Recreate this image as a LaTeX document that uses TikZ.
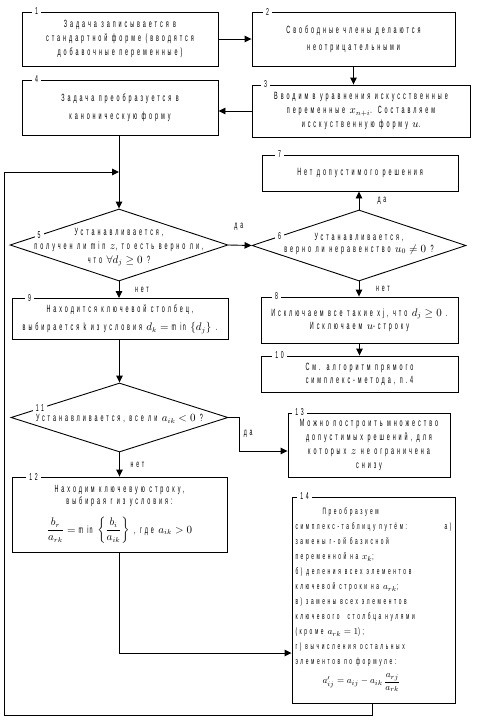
\documentclass[tikz,border=0pt]{standalone}
\usepackage{fontspec}
\usepackage{amsmath}
\setmainfont{Liberation Sans}[FakeStretch=0.52,LetterSpace=28]
\usetikzlibrary{shapes.geometric,arrows.meta,calc}
\newcommand{\myfs}[1]{\fontsize{10.5pt}{#1pt}\selectfont}
\newcommand{\smfs}[1]{\fontsize{9.3pt}{#1pt}\selectfont}
\begin{document}
\begin{tikzpicture}[x=1pt,y=-1pt,
  box/.style={draw,line width=0.9pt,inner sep=0pt,align=center},
  dia/.style={draw,diamond,line width=0.9pt,inner sep=0pt},
  num/.style={fill=white,inner xsep=3pt,inner ysep=0.5pt,font=\fontsize{10}{10}\selectfont},
  lbl/.style={inner sep=1pt,font=\fontsize{10}{10}\selectfont},
  arr/.style={line width=0.9pt,-{Triangle[length=7pt,width=6.5pt]}},
  txt/.style={align=center}]
\useasboundingbox (0,0) rectangle (479,728);

\node[box,minimum width=196,minimum height=54,font=\myfs{14}] (b1) at (120,39) {Задача записывается в\\стандартной форме (вводятся\\добавочные переменные)};
\node[box,minimum width=203,minimum height=54,font=\myfs{17}] (b2) at (353.5,39) {Свободные члены делаются\\неотрицательными};
\node[box,minimum width=218,minimum height=52,font=\myfs{14}] (b3) at (361,111) {Вводим в уравнения искусственные\\переменные $x_{n+i}$. Составляем\\исскуственную форму $u$.};
\node[box,minimum width=196,minimum height=55,font=\myfs{18}] (b4) at (120,107.5) {Задача преобразуется в\\каноническую форму};
\node[dia,minimum width=218,minimum height=72] (d5) at (119,245) {};
\node[txt,font=\myfs{14}] (t5) at ([yshift=-2pt]d5) {Устанавливается,\\получен ли min $z$, то есть верно ли,\\что $\forall d_j \geq 0$ ?};
\node[dia,minimum width=214,minimum height=71] (d6) at (359,245.5) {};
\node[txt,font=\myfs{12}] (t6) at ([yshift=2pt]d6) {Устанавливается,\\верно ли неравенство $u_0 \neq 0$ ?};
\node[box,minimum width=196,minimum height=36,font=\myfs{14}] (b7) at (360,173) {Нет допустимого решения};
\node[box,minimum width=216,minimum height=41,font=\myfs{18}] (b9) at (120,319) {Находится ключевой столбец,\\выбирается k из условия $d_k=\min\left\{d_j\right\}$ .};
\node[box,minimum width=197,minimum height=46,font=\myfs{13}] (b8) at (359.5,320) {Исключаем все такие xj, что $d_j \geq 0$ .\\Исключаем $u$-строку};
\node[box,minimum width=197,minimum height=36,font=\myfs{13}] (b10) at (359.5,374) {См. алгоритм прямого\\симплекс-метода, п.4};
\node[dia,minimum width=217,minimum height=69] (d11) at (119.5,417.5) {};
\node[txt,font=\myfs{14}] (t11) at ([yshift=-1.5pt]d11) {Устанавливается, все ли $a_{ik} < 0$ ?};
\node[box,minimum width=162,minimum height=64,font=\myfs{14.3}] (b13) at (369,445) {Можно построить множество\\допустимых решений, для\\которых $z$ не ограничена\\снизу};
\node[box,minimum width=215,minimum height=75,font=\myfs{11.5}] (b12) at (119.5,514.5) {Находим ключевую строку,\\выбирая r из условия:\\[10pt] $\dfrac{b_r}{a_{rk}} = \min\left\{\dfrac{b_i}{a_{ik}}\right\}$ , где $a_{ik}>0$};
\node[box,minimum width=163,minimum height=206,align=left,font=\smfs{15}] (b14) at (373.5,600) {\hspace*{27pt}Преобразуем\\
\makebox[156pt][l]{симплекс-таблицу путём:\hfill а)}\\
замены r-ой базисной\\
переменной на $x_k$;\\
б) деления всех элементов\\
ключевой строки на $a_{rk}$;\\
в) замены всех элементов\\
ключевого\ \ столбца нулями\\
(кроме $a_{rk}=1$);\\
г) вычисления остальных\\
элементов по формуле:\\[4pt]
\hspace*{27pt}$a'_{ij} = a_{ij} - a_{ik}\,\dfrac{a_{rj}}{a_{rk}}$};

\node[num] (n1) at ([xshift=15pt]b1.north west) {1};
\node[num] (n2) at ([xshift=16pt]b2.north west) {2};
\node[num] (n3) at ([xshift=14pt]b3.north west) {3};
\node[num] (n4) at ([xshift=15pt]b4.north west) {4};
\node[num] (n5) at ($(d5.west)!0.27!(d5.north)$) {5};
\node[num] (n6) at ($(d6.west)!0.26!(d6.north)$) {6};
\node[num] (n7) at ([xshift=18pt]b7.north west) {7};
\node[num] (n8) at ([xshift=16pt]b8.north west) {8};
\node[num] (n9) at ([xshift=18pt]b9.north west) {9};
\node[num] (n10) at ([xshift=19pt]b10.north west) {10};
\node[num] (n11) at ($(d11.west)!0.27!(d11.north)$) {11};
\node[num] (n12) at ([xshift=22pt]b12.north west) {12};
\node[num] (n13) at ([xshift=12pt]b13.north west) {13};
\node[num] (n14) at ([xshift=13pt]b14.north west) {14};

\coordinate (lp) at (4,172);
\draw[arr] (b1.east) -- (b1.east -| b2.west);
\draw[arr] (b2.south) -- (b2.south |- b3.north);
\draw[arr] (b3.west) -- (b3.west -| b4.east);
\draw[arr] (b4.south -| d5.north) -- (d5.north);
\draw[arr] (d5.east) -- node[lbl,pos=0.45,yshift=18pt]{да} (d6.west);
\draw[arr] (d6.north) -- node[lbl,xshift=23pt]{да} (d6.north |- b7.south);
\draw[arr] (d5.south) -- node[lbl,xshift=23pt]{нет} (d5.south |- b9.north);
\draw[arr] (d6.south) -- node[lbl,xshift=24pt]{нет} (d6.south |- b8.north);
\draw[arr] (b8.south) -- (b10.north);
\draw[arr] (b9.south -| d11.north) -- (d11.north);
\draw[arr] (d11.east) -- ++(11,0) |- node[lbl,pos=0.25,right=3pt]{да} ([yshift=-6pt]b13.west);
\draw[arr] (d11.south) -- node[lbl,xshift=18pt]{нет} (d11.south |- b12.north);
\draw[arr] (b12.south) |- ([yshift=-53pt]b14.west);
\draw[arr] ([xshift=-1.5pt]b14.south) -- ++(0,12) -| (lp) -- (lp -| d5.north);
\end{tikzpicture}
\end{document}
